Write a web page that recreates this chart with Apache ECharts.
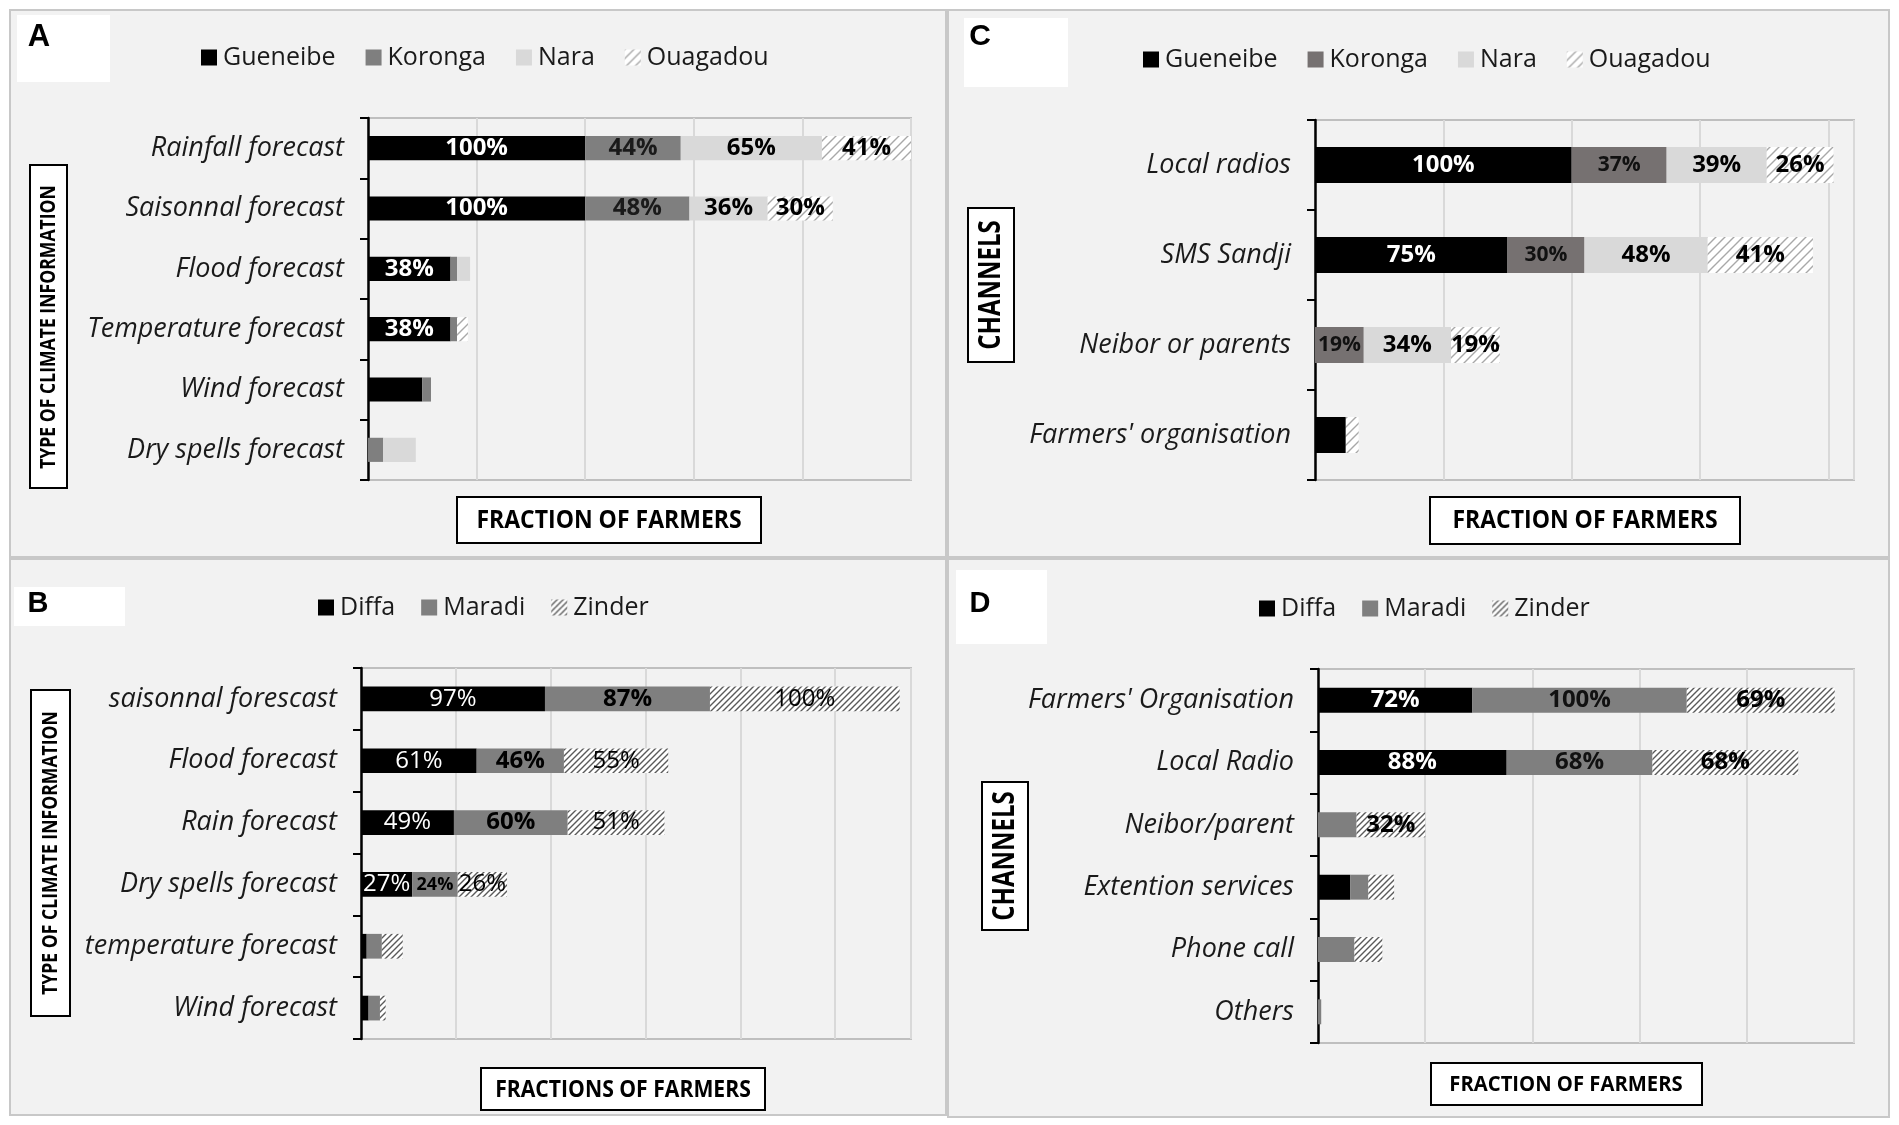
<!DOCTYPE html>
<html><head><meta charset="utf-8">
<script src="https://cdn.jsdelivr.net/npm/echarts@6/dist/echarts.min.js"></script>
<style>html,body{margin:0;padding:0;background:#fff}#c{width:1899px;height:1125px}</style>
</head><body><div id="c"></div>
<script>
// ---------- DATA ----------
const catsA = ['Rainfall forecast','Saisonnal forecast','Flood forecast','Temperature forecast','Wind forecast','Dry spells forecast'];
const gueneibeA = [100,100,38,38,25,0];
const korongaA  = [44,48,3,3,4,7];
const naraA     = [65,36,6,0,0,15];
const ouagadouA = [41,30,0,5,0,0];

const catsC = ['Local radios','SMS Sandji','Neibor or parents',"Farmers' organisation"];
const gueneibeC = [100,75,0,12];
const korongaC  = [37,30,19,0];
const naraC     = [39,48,34,0];
const ouagadouC = [26,41,19,5];

const catsB = ['saisonnal forescast','Flood forecast','Rain forecast','Dry spells forecast','temperature forecast','Wind forecast'];
const diffaB  = [97,61,49,27,3,4];
const maradiB = [87,46,60,24,8,6];
const zinderB = [100,55,51,26,11,3];

const catsD = ["Farmers' Organisation",'Local Radio','Neibor/parent','Extention services','Phone call','Others'];
const diffaD  = [72,88,0,15,0,0];
const maradiD = [100,68,18,8.5,17,1.5];
const zinderD = [69,68,32,12,13,0];

const axisMax = [250,210,290,250]; // A, C, B, D
const legendA = ['Gueneibe','Koronga','Nara','Ouagadou'];
const legendB = ['Diffa','Maradi','Zinder'];

// ---------- STYLE HELPERS ----------
function hatch(bg, fg, s, lw){
  const c=document.createElement('canvas'); c.width=s; c.height=s;
  const g=c.getContext('2d'); g.fillStyle=bg; g.fillRect(0,0,s,s);
  g.strokeStyle=fg; g.lineWidth=lw; g.beginPath();
  g.moveTo(0,s); g.lineTo(s,0);
  g.moveTo(-2,2); g.lineTo(2,-2);
  g.moveTo(s-2,s+2); g.lineTo(s+2,s-2);
  g.stroke();
  return {image:c, repeat:'repeat'};
}
const hatchLight = hatch('#ffffff','#a8a8a8',9,1.4);
const hatchDark  = hatch('#ffffff','#5a5a5a',6,1.4);
const FF = '"Open Sans", sans-serif';

function bar(name, data, gi, color, thr, lbl){
  return {
    type:'bar', name, data, stack:'s'+gi, xAxisIndex:gi, yAxisIndex:gi, barWidth:'40%',
    itemStyle:{color}, emphasis:{disabled:true},
    label:Object.assign({show:true, position:'inside', fontFamily:FF, fontSize:24, fontWeight:'bold',
      color:'#000', textBorderWidth:0,
      formatter:p => p.value >= thr ? (p.value < 25 && lbl.small ? '{s|'+p.value+'%}' : p.value+'%') : '',
      rich:{s:{fontSize:lbl.small||24, fontWeight:lbl.fontWeight||'bold', fontFamily:FF, color:lbl.color||'#000'}}
    }, lbl)
  };
}

const grids = [
  {left:368, top:118, width:543, height:362},
  {left:1315, top:120, width:539, height:360},
  {left:361, top:668, width:550, height:371},
  {left:1318, top:669, width:536, height:374}
];
const cats = [catsA, catsC, catsB, catsD];

const option = {
  backgroundColor:'#ffffff',
  animation:false,
  grid: grids.map(g => Object.assign({show:true, borderColor:'#bfbfbf', borderWidth:2, backgroundColor:'transparent', containLabel:false}, g)),
  xAxis: axisMax.map((m,i) => ({type:'value', gridIndex:i, min:0, max:m, interval:50,
    axisLabel:{show:false}, axisLine:{show:false}, axisTick:{show:false},
    splitLine:{show:true, lineStyle:{color:'#d9d9d9', width:2}}})),
  yAxis: cats.map((c,i) => ({type:'category', gridIndex:i, data:c, inverse:true,
    axisLine:{show:true, lineStyle:{color:'#000', width:2.5}},
    axisTick:{show:true, length:8, lineStyle:{color:'#000', width:2}},
    axisLabel:{fontFamily:FF, fontStyle:'italic', fontSize:27, color:'#1a1a1a', margin:24}})),
  legend: [
    {data:legendA.map(n => ({name:n, itemStyle: n==='Koronga'?{color:'#7f7f7f'}:undefined})), left:201, top:45},
    {data:legendA.map(n => ({name:n, itemStyle: n==='Koronga'?{color:'#767171'}:undefined})), left:1143, top:47},
    {data:legendB, left:318, top:595, itemGap:26},
    {data:legendB, left:1259, top:596, itemGap:26}
  ].map(l => Object.assign({orient:'horizontal', padding:0, itemWidth:16, itemHeight:16, itemGap:30, icon:'rect',
    selectedMode:false, textStyle:{fontFamily:FF, fontSize:25, color:'#1a1a1a', padding:[0,0,0,1]}}, l)),
  series: [
    bar('Gueneibe', gueneibeA, 0, '#000000', 30, {color:'#ffffff'}),
    bar('Koronga',  korongaA,  0, '#7f7f7f', 30, {color:'#1a1a1a'}),
    bar('Nara',     naraA,     0, '#d9d9d9', 30, {}),
    bar('Ouagadou', ouagadouA, 0, hatchLight, 30, {}),

    bar('Gueneibe', gueneibeC, 1, '#000000', 15, {color:'#ffffff'}),
    bar('Koronga',  korongaC,  1, '#767171', 15, {color:'#111111', fontSize:21}),
    bar('Nara',     naraC,     1, '#d9d9d9', 15, {}),
    bar('Ouagadou', ouagadouC, 1, hatchLight, 15, {}),

    bar('Diffa',  diffaB,  2, '#000000', 20, {color:'#ffffff', fontWeight:'normal'}),
    bar('Maradi', maradiB, 2, '#7f7f7f', 20, {color:'#000', small:18}),
    bar('Zinder', zinderB, 2, hatchDark, 20, {fontWeight:'normal'}),

    bar('Diffa',  diffaD,  3, '#000000', 20, {color:'#ffffff'}),
    bar('Maradi', maradiD, 3, '#7f7f7f', 20, {color:'#111111'}),
    bar('Zinder', zinderD, 3, hatchDark, 20, {})
  ],
  graphic: {elements: []}
};

// ---------- DECORATION (panels, letters, boxed axis titles) ----------
const G = option.graphic.elements;
function rect(x,y,w,h,fill,stroke,lw,z){ G.push({type:'rect', z:z, silent:true, shape:{x,y,width:w,height:h}, style:{fill, stroke, lineWidth:lw}}); }
function text(t,x,y,font,rot,sx){ G.push({type:'text', z:20, silent:true, x, y, rotation:rot||0, scaleX:sx||1,
  style:{text:t, font, fill:'#000', align:'center', verticalAlign:'middle', textAlign:'center', textVerticalAlign:'middle'}}); }

rect(10,10,936,547,'#f2f2f2','#c8c8c8',2,-5);
rect(948,10,941,547,'#f2f2f2','#c8c8c8',2,-5);
rect(10,559,936,556,'#f2f2f2','#c8c8c8',2,-5);
rect(948,559,941,558,'#f2f2f2','#c8c8c8',2,-5);

rect(17,15,93,67,'#ffffff',null,0,1);
rect(964,18,104,69,'#ffffff',null,0,1);
rect(14,587,111,39,'#ffffff',null,0,1);
rect(956,570,91,74,'#ffffff',null,0,1);
text('A',39,37,'bold 31px "Liberation Sans", Arial, sans-serif');
text('C',980,37,'bold 30px "Liberation Sans", Arial, sans-serif');
text('B',38,604,'bold 29px "Liberation Sans", Arial, sans-serif');
text('D',980,604,'bold 29px "Liberation Sans", Arial, sans-serif');

// y-axis titles
rect(30,165,37,323,'#ffffff','#000',2,1);
text('TYPE OF CLIMATE INFORMATION',49,327,'bold 22px "Open Sans", sans-serif',Math.PI/2,0.8);
rect(31,690,39,326,'#ffffff','#000',2,1);
text('TYPE OF CLIMATE INFORMATION',51,853,'bold 22px "Open Sans", sans-serif',Math.PI/2,0.8);
rect(968,208,46,154,'#ffffff','#000',2,1);
text('CHANNELS',991,285,'bold 30px "Open Sans", sans-serif',Math.PI/2,0.8);
rect(982,782,46,148,'#ffffff','#000',2,1);
text('CHANNELS',1005,856,'bold 30px "Open Sans", sans-serif',Math.PI/2,0.8);

// x-axis titles
rect(457,497,304,46,'#ffffff','#000',2,1);
text('FRACTION OF FARMERS',609,521,'bold 25px "Open Sans", sans-serif',0,0.92);
rect(1430,497,310,47,'#ffffff','#000',2,1);
text('FRACTION OF FARMERS',1585,521,'bold 25px "Open Sans", sans-serif',0,0.92);
rect(481,1068,284,42,'#ffffff','#000',2,1);
text('FRACTIONS OF FARMERS',623,1090,'bold 23px "Open Sans", sans-serif',0,0.92);
rect(1431,1063,271,42,'#ffffff','#000',2,1);
text('FRACTION OF FARMERS',1566,1085,'bold 22px "Open Sans", sans-serif',0,0.92);

const chart = echarts.init(document.getElementById('c'));
chart.setOption(option);
</script>
</body></html>
